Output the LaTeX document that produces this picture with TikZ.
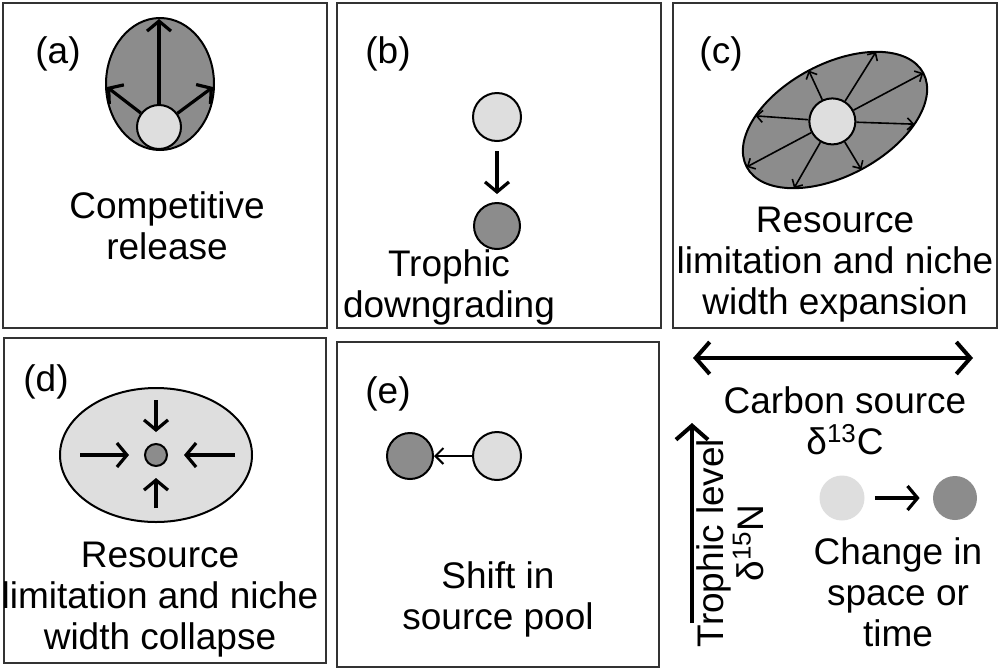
\documentclass[tikz,border=0pt]{standalone}
\usepackage{fontspec}
\setmainfont{Liberation Sans}
\usetikzlibrary{arrows.meta}

\definecolor{fillLight}{gray}{0.87}
\definecolor{fillDark}{gray}{0.55}

\tikzset{
  panel/.style={draw=black!80, line width=1pt},
  txt/.style={align=center, font=\fontsize{18.5}{20.5}\selectfont},
  dot/.style={circle, draw=black, line width=1pt, inner sep=0pt, minimum size=#1},
  blob/.style={circle, inner sep=0pt, minimum size=#1},
  bigarr/.style={line width=1.6pt, -{Straight Barb[length=5pt,width=12pt]}},
  medarr/.style={line width=1pt, -{Straight Barb[length=4pt,width=8pt]}},
  thinarr/.style={line width=0.8pt, -{Straight Barb[length=3pt,width=6pt]}},
  axisarr/.style={line width=2pt, -{Straight Barb[length=7pt,width=16pt]}},
  botharr/.style={line width=2pt, {Straight Barb[length=7pt,width=16pt]}-{Straight Barb[length=7pt,width=16pt]}}
}

\begin{document}
\begin{tikzpicture}[x=0.5pt,y=-0.5pt]
\useasboundingbox (0,0) rectangle (1000,670);

% (a) competitive release
\draw[panel] (3,3) rectangle (327,328);
\node[txt] at (58,54) {(a)};
\draw[line width=1pt, fill=fillDark] (160,84) ellipse [x radius=54, y radius=66];
\node[dot=22pt, fill=fillLight] (a0) at (159,127) {};
\coordinate (a1) at (159,19);
\coordinate (a2) at (107,87);
\coordinate (a3) at (213,87);
\draw[bigarr] (a0) -- (a1);
\draw[bigarr] (a0) -- (a2);
\draw[bigarr] (a0) -- (a3);
\node[txt] at (167,226) {Competitive\\release};

% (b) trophic downgrading
\draw[panel] (337,3) rectangle (661,328);
\node[txt] at (388,54) {(b)};
\node[dot=24pt, fill=fillLight] (b1) at (497,117) {};
\node[dot=23pt, fill=fillDark] (b2) at (497,226) {};
\draw[bigarr, shorten <=4.5pt, shorten >=4pt] (b1) -- (b2);
\node[txt] at (449,287) {Trophic\\downgrading};

% (c) niche width expansion
\draw[panel] (673,3) rectangle (997,328);
\node[txt] at (721,54) {(c)};
\begin{scope}[shift={(835,120)}, rotate=28]
  \draw[line width=1pt, fill=fillDark] (0,0) ellipse [x radius=100, y radius=56];
  \node[dot=23pt, fill=fillLight] (c0) at (-3,0) {};
  \foreach \t in {0,47,90,133,180,227,270,313}
    \draw[thinarr] (c0) -- (\t:100 and 56);
\end{scope}
\node[txt] at (835,265) {Resource\\limitation and niche\\width expansion};

% (d) niche width collapse
\draw[panel] (4,338) rectangle (326,663);
\node[txt] at (46,382) {(d)};
\draw[line width=1pt, fill=fillLight] (156,455) ellipse [x radius=96, y radius=67];
\node[dot=11pt, fill=fillDark] (d0) at (156,455) {};
\coordinate (d1) at (80,455);
\coordinate (d2) at (235,455);
\coordinate (d3) at (156,400);
\coordinate (d4) at (156,508);
\draw[bigarr, shorten >=7.5pt] (d1) -- (d0);
\draw[bigarr, shorten >=8pt] (d2) -- (d0);
\draw[bigarr, shorten >=5.5pt] (d3) -- (d0);
\draw[bigarr, shorten >=5.5pt] (d4) -- (d0);
\node[txt] at (160,600) {Resource\\limitation and niche\\width collapse};

% (e) shift in source pool
\draw[panel] (337,342) rectangle (659,667);
\node[txt] at (388,394) {(e)};
\node[dot=23pt, fill=fillDark] (e1) at (410,456) {};
\node[dot=24pt, fill=fillLight] (e2) at (497,456) {};
\draw[medarr] (e2) -- (e1);
\node[txt] at (498,599) {Shift in\\source pool};

% key
\coordinate (cl) at (693,358);
\coordinate (cr) at (973,358);
\draw[botharr] (cl) -- (cr);
\node[txt] at (845,421) {Carbon source\\δ\textsuperscript{13}C};
\coordinate (tb) at (692,623);
\coordinate (tt) at (692,423);
\draw[axisarr] (tb) -- (tt);
\node[txt, font=\fontsize{18.5}{18}\selectfont, rotate=90] at (730,543) {Trophic level\\δ\textsuperscript{15}N};
\node[blob=22.5pt, fill=fillLight] (k1) at (842,498) {};
\node[blob=22pt, fill=fillDark] (k2) at (955,498) {};
\draw[bigarr, shorten <=5pt, shorten >=6.5pt] (k1) -- (k2);
\node[txt] at (898,592) {Change in\\space or\\time};
\end{tikzpicture}
\end{document}
